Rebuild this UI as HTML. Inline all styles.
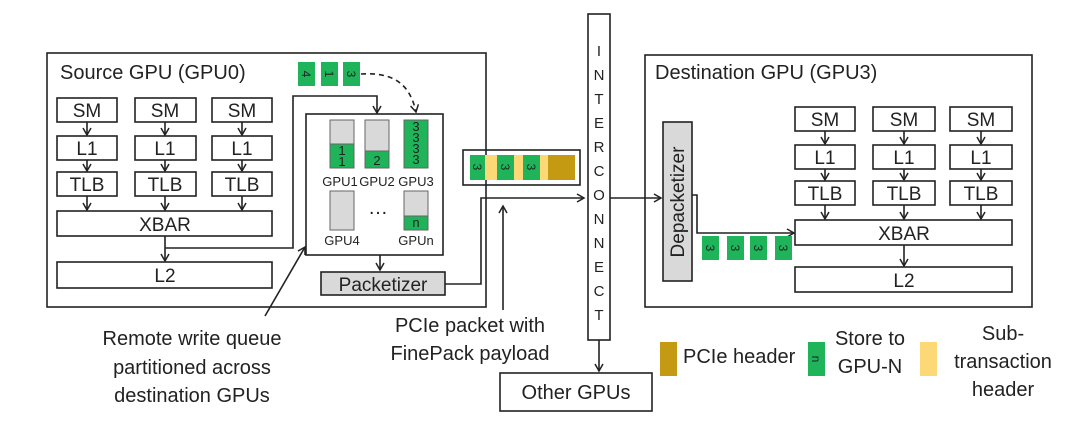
<!DOCTYPE html>
<html><head><meta charset="utf-8"><style>
html,body{margin:0;padding:0;background:#fff;}
svg{display:block;}
text{font-family:"Liberation Sans",sans-serif;fill:#222;}
</style></head><body>
<svg width="1080" height="437" viewBox="0 0 1080 437" xmlns="http://www.w3.org/2000/svg">
<defs>
<marker id="a" markerWidth="10" markerHeight="10" refX="8" refY="5" orient="auto" markerUnits="userSpaceOnUse">
<path d="M1,1 L8,5 L1,9" fill="none" stroke="#222" stroke-width="1.5"/></marker>
</defs>
<g stroke="#222" stroke-width="1.6" fill="none">
<rect x="47" y="53" width="439" height="254" fill="#fff"/>
<rect x="645" y="55" width="387" height="252" fill="#fff"/>
<rect x="57" y="98" width="60" height="24"/><rect x="135" y="98" width="61" height="24"/><rect x="212" y="98" width="60" height="24"/>
<rect x="57" y="136" width="60" height="24"/><rect x="135" y="136" width="61" height="24"/><rect x="212" y="136" width="60" height="24"/>
<rect x="57" y="172" width="60" height="24"/><rect x="135" y="172" width="61" height="24"/><rect x="212" y="172" width="60" height="24"/>
<rect x="57" y="211" width="215" height="25"/>
<rect x="57" y="262" width="215" height="26"/>
<line x1="87" y1="122" x2="87" y2="135" marker-end="url(#a)"/><line x1="165" y1="122" x2="165" y2="135" marker-end="url(#a)"/><line x1="242" y1="122" x2="242" y2="135" marker-end="url(#a)"/>
<line x1="87" y1="160" x2="87" y2="171" marker-end="url(#a)"/><line x1="165" y1="160" x2="165" y2="171" marker-end="url(#a)"/><line x1="242" y1="160" x2="242" y2="171" marker-end="url(#a)"/>
<line x1="87" y1="196" x2="87" y2="210" marker-end="url(#a)"/><line x1="165" y1="196" x2="165" y2="210" marker-end="url(#a)"/><line x1="242" y1="196" x2="242" y2="210" marker-end="url(#a)"/>
<line x1="165" y1="236" x2="165" y2="261" marker-end="url(#a)"/>
<polyline points="165,248 293,248 293,96 377,96 377,113" marker-end="url(#a)"/>
<rect x="306" y="114" width="137" height="141"/>
<path d="M361,74 C395,72 410,85 416,112" stroke-dasharray="5,4" marker-end="url(#a)"/>
<line x1="380" y1="255" x2="380" y2="270" marker-end="url(#a)"/>
<line x1="265" y1="316" x2="305" y2="247" marker-end="url(#a)"/>
<polyline points="445,284 481,284 481,198 584,198" marker-end="url(#a)"/>
<line x1="503" y1="310" x2="503" y2="206" marker-end="url(#a)"/>
<rect x="463" y="150" width="117" height="35"/>
<rect x="588" y="14" width="22" height="326" fill="#fff"/>
<line x1="599" y1="340" x2="599" y2="371" marker-end="url(#a)"/>
<rect x="500" y="373" width="152" height="38"/>
<line x1="610" y1="198" x2="661" y2="198" marker-end="url(#a)"/>
<polyline points="692,195 697,195 697,233 794,233" marker-end="url(#a)"/>
<rect x="795" y="107" width="60" height="24"/><rect x="873" y="107" width="62" height="24"/><rect x="950" y="107" width="62" height="24"/>
<rect x="795" y="145" width="60" height="24"/><rect x="873" y="145" width="62" height="24"/><rect x="950" y="145" width="62" height="24"/>
<rect x="795" y="181" width="60" height="24"/><rect x="873" y="181" width="62" height="24"/><rect x="950" y="181" width="62" height="24"/>
<rect x="795" y="220" width="217" height="25"/>
<rect x="795" y="267" width="217" height="25"/>
<line x1="825" y1="131" x2="825" y2="144" marker-end="url(#a)"/><line x1="904" y1="131" x2="904" y2="144" marker-end="url(#a)"/><line x1="981" y1="131" x2="981" y2="144" marker-end="url(#a)"/>
<line x1="825" y1="169" x2="825" y2="180" marker-end="url(#a)"/><line x1="904" y1="169" x2="904" y2="180" marker-end="url(#a)"/><line x1="981" y1="169" x2="981" y2="180" marker-end="url(#a)"/>
<line x1="825" y1="205" x2="825" y2="219" marker-end="url(#a)"/><line x1="904" y1="205" x2="904" y2="219" marker-end="url(#a)"/><line x1="981" y1="205" x2="981" y2="219" marker-end="url(#a)"/>
<line x1="904" y1="245" x2="904" y2="266" marker-end="url(#a)"/>
</g>
<rect x="321" y="272" width="124" height="23" fill="#d9d9d9" stroke="#222" stroke-width="1.6"/>
<rect x="663" y="122" width="29" height="159" fill="#d9d9d9" stroke="#222" stroke-width="1.6"/>
<g stroke="#666" stroke-width="1">
<rect x="330" y="120" width="24" height="48" fill="#d9d9d9"/><rect x="330" y="144" width="24" height="24" fill="#1fb45a"/>
<rect x="365" y="120" width="24" height="48" fill="#d9d9d9"/><rect x="365" y="151" width="24" height="17" fill="#1fb45a"/>
<rect x="404" y="120" width="24" height="48" fill="#1fb45a"/>
<rect x="330" y="191" width="24" height="39" fill="#d9d9d9"/>
<rect x="404" y="191" width="24" height="39" fill="#d9d9d9"/><rect x="404" y="216" width="24" height="14" fill="#1fb45a"/>
</g>
<g font-size="13" text-anchor="middle">
<text x="342" y="155">1</text><text x="342" y="166">1</text>
<text x="377" y="165">2</text>
<text x="416" y="131">3</text><text x="416" y="142">3</text><text x="416" y="153">3</text><text x="416" y="164">3</text>
<text x="416" y="227">n</text>
</g>
<g font-size="13" text-anchor="middle" fill="#333">
<text x="340" y="186">GPU1</text><text x="377" y="186">GPU2</text><text x="416" y="186">GPU3</text>
<text x="342" y="245">GPU4</text><text x="416" y="245">GPUn</text>
<text x="378" y="214" font-size="20">…</text>
</g>
<g fill="#1fb45a">
<rect x="298" y="62" width="17" height="24"/><rect x="321" y="62" width="17" height="24"/><rect x="343" y="62" width="17" height="24"/>
<rect x="470" y="155" width="15" height="25"/><rect x="497" y="155" width="17" height="25"/><rect x="523" y="155" width="17" height="25"/>
<rect x="702" y="236" width="17" height="24"/><rect x="727" y="236" width="17" height="24"/><rect x="750" y="236" width="17" height="24"/><rect x="775" y="236" width="17" height="24"/>
<rect x="808" y="342" width="17" height="34"/>
</g>
<g fill="#fdd877"><rect x="485" y="155" width="12" height="25"/><rect x="514" y="155" width="9" height="25"/><rect x="540" y="155" width="8" height="25"/><rect x="920" y="342" width="17" height="34"/></g>
<g fill="#c39a12"><rect x="548" y="155" width="27" height="25"/><rect x="660" y="342" width="17" height="34"/></g>
<g font-size="12" text-anchor="middle">
<text transform="translate(306,74) rotate(90)" y="4">4</text>
<text transform="translate(329,74) rotate(90)" y="4">1</text>
<text transform="translate(351,74) rotate(90)" y="4">3</text>
<text transform="translate(477,167) rotate(90)" y="4">3</text>
<text transform="translate(505,167) rotate(90)" y="4">3</text>
<text transform="translate(531,167) rotate(90)" y="4">3</text>
<text transform="translate(710,248) rotate(90)" y="4">3</text>
<text transform="translate(735,248) rotate(90)" y="4">3</text>
<text transform="translate(758,248) rotate(90)" y="4">3</text>
<text transform="translate(783,248) rotate(90)" y="4">3</text>
<text transform="translate(816,359) rotate(90)" y="4">n</text>
</g>
<g font-size="19" text-anchor="middle">
<text x="87" y="117">SM</text><text x="165" y="117">SM</text><text x="242" y="117">SM</text>
<text x="87" y="155">L1</text><text x="165" y="155">L1</text><text x="242" y="155">L1</text>
<text x="87" y="191">TLB</text><text x="165" y="191">TLB</text><text x="242" y="191">TLB</text>
<text x="165" y="231">XBAR</text><text x="165" y="282">L2</text>
<text x="825" y="126">SM</text><text x="904" y="126">SM</text><text x="981" y="126">SM</text>
<text x="825" y="164">L1</text><text x="904" y="164">L1</text><text x="981" y="164">L1</text>
<text x="825" y="200">TLB</text><text x="904" y="200">TLB</text><text x="981" y="200">TLB</text>
<text x="904" y="240">XBAR</text><text x="904" y="287">L2</text>
<text x="383" y="291">Packetizer</text>
<text transform="translate(684,202) rotate(-90)">Depacketizer</text>
</g>
<g font-size="20" text-anchor="middle">
<text x="576" y="399">Other GPUs</text>
<text x="192" y="345">Remote write queue</text>
<text x="192" y="374">partitioned across</text>
<text x="192" y="402">destination GPUs</text>
<text x="470" y="332">PCIe packet with</text>
<text x="470" y="360">FinePack payload</text>
<text x="870" y="345">Store to</text><text x="870" y="373">GPU-N</text>
<text x="1003" y="340">Sub-</text><text x="1003" y="368">transaction</text><text x="1003" y="396">header</text>
</g>
<text x="683" y="363" font-size="20">PCIe header</text>
<text x="60" y="79" font-size="20">Source GPU (GPU0)</text>
<text x="655" y="79" font-size="20">Destination GPU (GPU3)</text>
<g font-size="15" text-anchor="middle">
<text x="599" y="56">I</text><text x="599" y="80">N</text><text x="599" y="104">T</text><text x="599" y="128">E</text><text x="599" y="152">R</text><text x="599" y="176">C</text><text x="599" y="200">O</text><text x="599" y="224">N</text><text x="599" y="248">N</text><text x="599" y="272">E</text><text x="599" y="296">C</text><text x="599" y="320">T</text>
</g>
</svg>
</body></html>
